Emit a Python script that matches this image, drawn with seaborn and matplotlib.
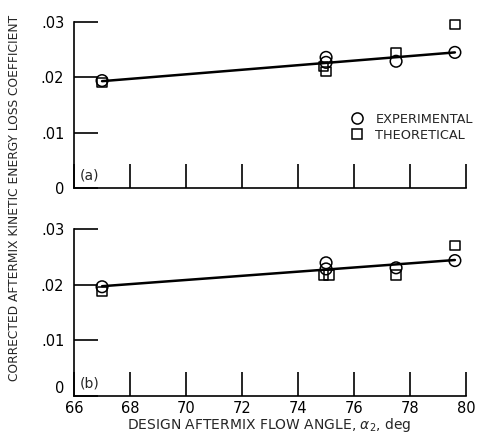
import matplotlib
matplotlib.use("Agg")
import matplotlib.pyplot as plt
import seaborn as sns
from matplotlib.lines import Line2D

sns.set_style("white")
plt.rcParams['font.family'] = ['DejaVu Sans']

# Panel (a)
a_exp_x = [67.0, 75.0, 75.0, 77.5, 79.6]
a_exp_y = [0.0194, 0.0236, 0.0227, 0.0229, 0.0245]
a_th_x = [67.0, 74.9, 75.0, 77.5, 79.6]
a_th_y = [0.0191, 0.0220, 0.0211, 0.0245, 0.0295]
a_line_x = [67.0, 79.6]
a_line_y = [0.0193, 0.0245]

# Panel (b)
b_exp_x = [67.0, 75.0, 75.0, 77.5, 79.6]
b_exp_y = [0.0196, 0.0239, 0.0228, 0.0230, 0.0243]
b_th_x = [67.0, 74.9, 75.1, 77.5, 79.6]
b_th_y = [0.0187, 0.0217, 0.0217, 0.0217, 0.0270]
b_line_x = [67.0, 79.6]
b_line_y = [0.0197, 0.0244]

x_ticks = [66, 68, 70, 72, 74, 76, 78, 80]
y_ticks = [0, 0.01, 0.02, 0.03]
y_ticklabels = ["0", ".01", ".02", ".03"]

fig = plt.figure(figsize=(4.84, 4.4), dpi=100)
ax1 = fig.add_axes([0.153, 0.573, 0.810, 0.377])
ax2 = fig.add_axes([0.153, 0.100, 0.810, 0.380])

fs = 10.5
panels = [
    (ax1, a_exp_x, a_exp_y, a_th_x, a_th_y, a_line_x, a_line_y, "(a)"),
    (ax2, b_exp_x, b_exp_y, b_th_x, b_th_y, b_line_x, b_line_y, "(b)"),
]
for ax, ex, ey, tx, ty, lx, ly, lab in panels:
    sns.lineplot(x=lx, y=ly, ax=ax, color="black", lw=1.8)
    sns.scatterplot(x=tx, y=ty, ax=ax, marker="s", s=45, facecolor="none",
                    edgecolor="black", linewidth=1.1, zorder=3, clip_on=False)
    sns.scatterplot(x=ex, y=ey, ax=ax, marker="o", s=70, facecolor="none",
                    edgecolor="black", linewidth=1.1, zorder=4, clip_on=False)
    ax.set_xlim(66, 80)
    ax.set_ylim(0, 0.03)
    ax.set_xticks(x_ticks)
    ax.set_yticks(y_ticks)
    ax.set_yticklabels(y_ticklabels, fontsize=fs)
    ax.tick_params(axis="y", pad=7)
    ax.tick_params(direction="in", length=17, width=1.2, colors="black",
                   bottom=True, left=True)
    for s in ["top", "right"]:
        ax.spines[s].set_visible(False)
    for s in ["left", "bottom"]:
        ax.spines[s].set_color("black")
        ax.spines[s].set_linewidth(1.2)
    ax.text(0.015, 0.03, lab, transform=ax.transAxes, fontsize=fs - 0.5,
            ha="left", va="bottom")

ax1.set_xticklabels([])
ax2.set_xticklabels([str(v) for v in x_ticks], fontsize=fs)
ax2.get_yticklabels()[0].set_verticalalignment("bottom")

handles = [
    Line2D([], [], marker="o", ls="none", mfc="none", mec="black", ms=8, mew=1.1),
    Line2D([], [], marker="s", ls="none", mfc="none", mec="black", ms=6.5, mew=1.1),
]
ax1.legend(handles, ["EXPERIMENTAL", "THEORETICAL"], loc="upper left",
           bbox_to_anchor=(0.683, 0.506), frameon=False, fontsize=9.3,
           handletextpad=0.9, labelspacing=0.2, handlelength=1.0,
           borderaxespad=0.3)

fig.text(0.03, 0.55, "CORRECTED AFTERMIX KINETIC ENERGY LOSS COEFFICIENT",
         rotation=90, ha="center", va="center", fontsize=8.8)
fig.text(0.556, 0.034, r"DESIGN AFTERMIX FLOW ANGLE, $\alpha_2$, deg",
         ha="center", va="center", fontsize=10)

fig.savefig("out.png", dpi=100)
